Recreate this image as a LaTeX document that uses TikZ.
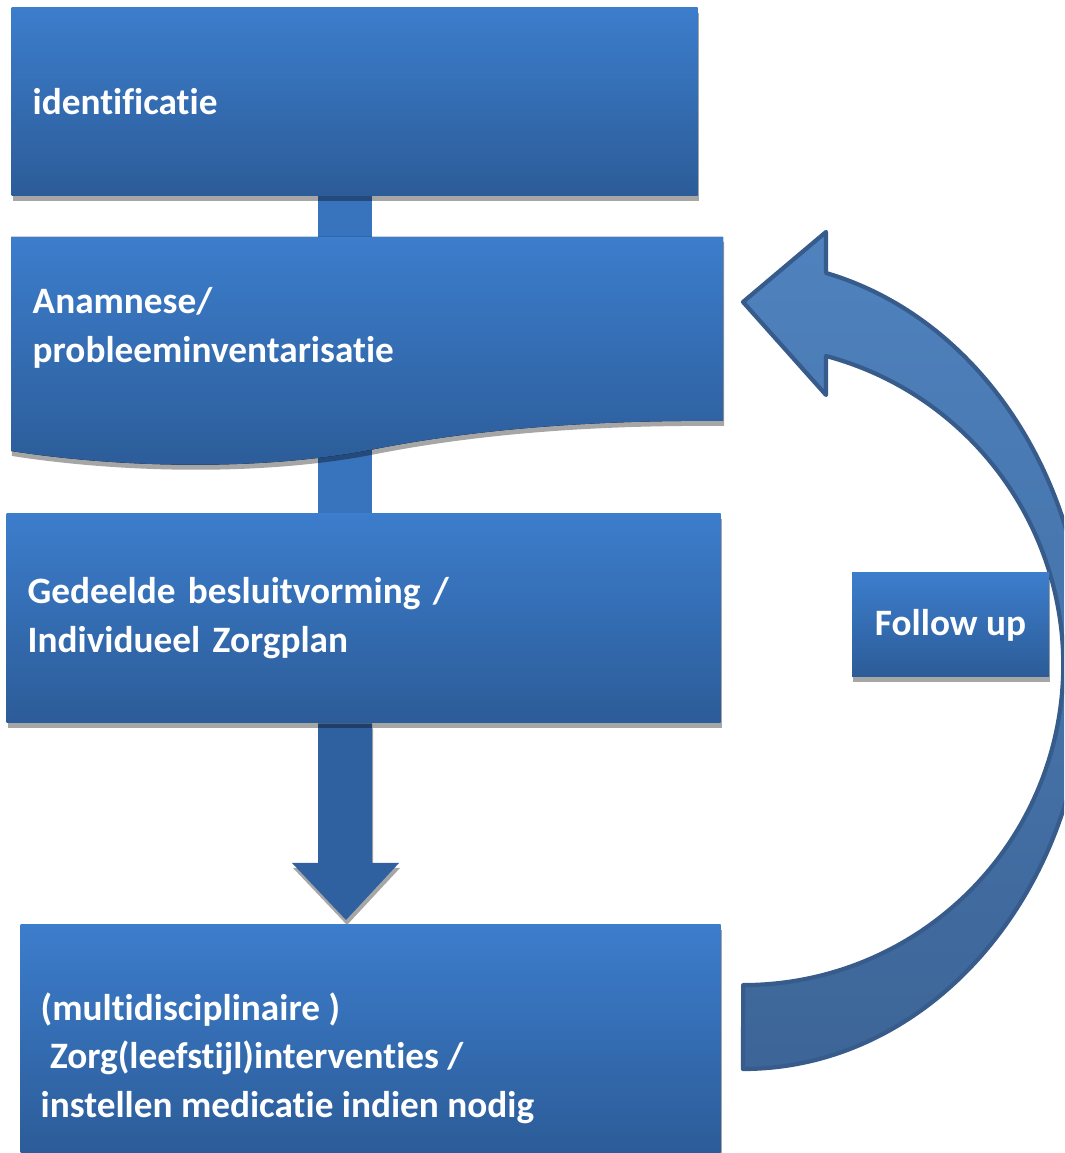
\documentclass[tikz,border=0pt]{standalone}
\usepackage{fontspec}
\setmainfont{Carlito}[Ligatures=NoCommon]
\usepackage{tikz}
\usetikzlibrary{positioning, shadows, backgrounds}

\definecolor{boxtop}{HTML}{3C7DCC}
\definecolor{boxbot}{HTML}{2C5C98}
\definecolor{barblue}{HTML}{3873BD}
\definecolor{downblue}{HTML}{2F61A0}
\definecolor{curvetop}{HTML}{4F82BE}
\definecolor{curvebot}{HTML}{3D6597}
\definecolor{curveline}{HTML}{375C8C}

\begin{document}
\begin{tikzpicture}[
        font=\fontsize{10.6}{13.8}\selectfont\bfseries,
        boxshadow/.style={drop shadow={shadow xshift=0.01cm, shadow yshift=-0.05cm, fill=black, opacity=0.35}},
        stepbox/.style={rectangle, top color=boxtop, bottom color=boxbot, text=white, align=left,
            inner xsep=0.21cm, anchor=north west, boxshadow},
        steptext/.style={text=white, align=left, anchor=west, inner sep=0pt},
        bar/.style={fill=barblue},
        downarrow/.style={fill=downblue, boxshadow},
        curvearrow/.style={draw=curveline, line width=1.2pt, line join=round, top color=curvetop, bottom color=curvebot}
    ]
    \useasboundingbox (0,0) rectangle (10.64,11.53);
    \clip (0,0) rectangle (10.64,11.53);

    % Follow-up loop arrow
    \draw[curvearrow] (7.43,0.84) arc[start angle=-90, end angle=76, x radius=3.43cm, y radius=4.04cm]
        -- (8.26,9.21) -- (7.43,8.51) -- (8.26,7.58) -- (8.26,7.97)
        arc[start angle=75, end angle=-90, x radius=3.2cm, y radius=3.2cm] -- cycle;

    % Steps
    \node[stepbox, text width=6.44cm, minimum height=1.88cm] (ident) at (0.11,11.46) {identificatie};

    \fill[top color=boxtop, bottom color=boxbot, boxshadow] (0.11,9.16) -- (7.23,9.16) -- (7.23,7.32)
        .. controls (6.0,7.33) and (4.8,7.25) .. (3.7,7.03)
        .. controls (2.6,6.82) and (1.2,6.85) .. (0.11,7.02) -- cycle;
    \node[steptext] (anam) at (0.32,8.25) {Anamnese/\\probleeminventarisatie};

    \node[stepbox, text width=6.72cm, minimum height=2.09cm] (gedeeld) at (0.06,6.40)
        {Gedeelde besluitvorming /\\Individueel Zorgplan};

    \node[stepbox, minimum width=7.00cm, minimum height=2.29cm] (zorg) at (0.20,2.29) {};
    \node[steptext] (zorgtxt) at (0.40,0.95)
        {(multidisciplinaire )\\\hspace*{0.25em}Zorg(leefstijl)interventies /\\instellen medicatie indien nodig};

    \node[stepbox, anchor=center, align=center, minimum width=1.97cm, minimum height=1.04cm] (follow) at (9.505,5.28) {Follow up};

    % Links between the steps
    \coordinate (barl) at (3.18,0);
    \coordinate (barr) at (3.72,0);
    \coordinate (anamtop) at (0,9.16);
    \coordinate (wavemid) at (0,7.3);
    \begin{scope}[on background layer]
        \fill[bar] (ident.south -| barl) rectangle (anamtop -| barr);
        \fill[bar] (wavemid -| barl) rectangle (gedeeld.north -| barr);
        \fill[downarrow] (gedeeld.south -| barl) -- (3.18,2.90) -- (2.92,2.90) -- (3.46,2.33)
            -- (3.99,2.90) -- (3.72,2.90) -- (gedeeld.south -| barr) -- cycle;
    \end{scope}

\end{tikzpicture}
\end{document}
